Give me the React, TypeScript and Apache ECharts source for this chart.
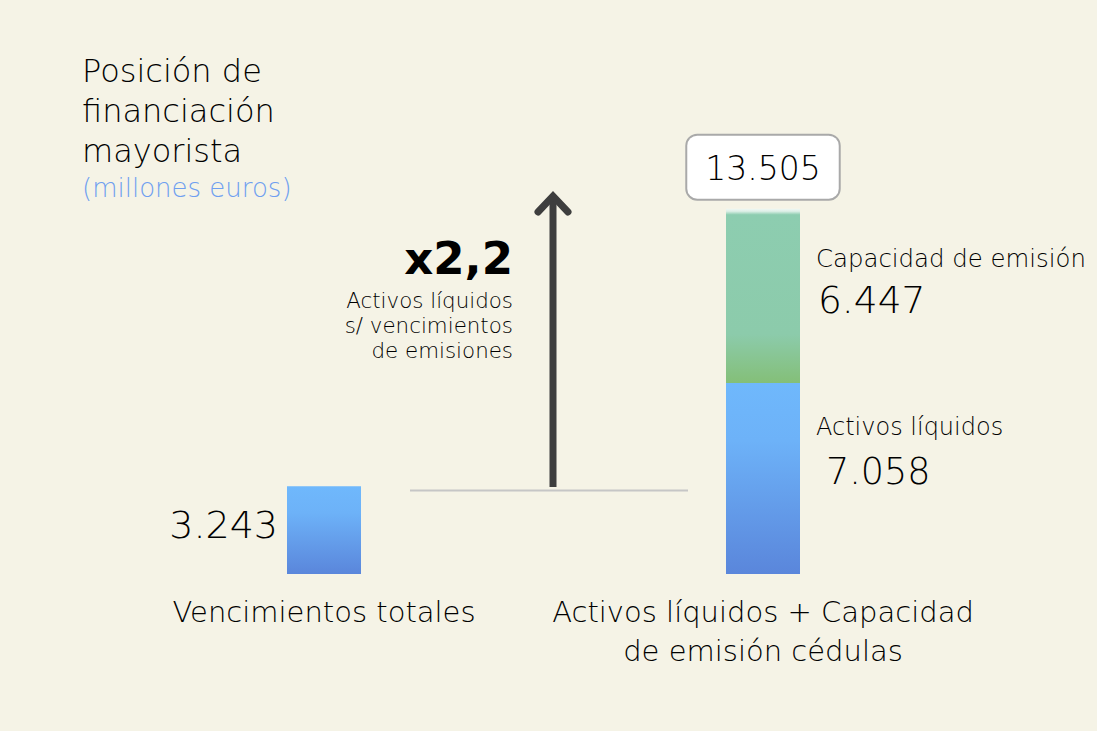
import React, { useEffect, useRef } from "react";
import * as echarts from "echarts";

const categories = ["Vencimientos totales", "Activos líquidos + Capacidad\nde emisión cédulas"];
const liquidValues = [3243, 7058];
const capacityValues = [null, 6447];
const totalValues = [null, 13505];
const titleLines = ["Posición de", "financiación", "mayorista"];
const subtitle = "(millones euros)";
const multiplierText = "x2,2";
const multiplierNote = ["Activos líquidos", "s/ vencimientos", "de emisiones"];

const fmt = (n: number) => String(Math.round(n)).replace(/\B(?=(\d{3})+(?!\d))/g, ".");

const FONT = "DejaVu Sans";
const W = 200;
const INK = "#000";

export default function App() {
  const ref = useRef<HTMLDivElement>(null);
  useEffect(() => {
    if (!ref.current) return;
    const chart = echarts.init(ref.current, null, { renderer: "svg" });
    const blueGrad = new echarts.graphic.LinearGradient(0, 0, 0, 1, [
      { offset: 0, color: "#6fb8fc" },
      { offset: 0.3, color: "#6db2f8" },
      { offset: 1, color: "#5a86db" },
    ]);
    const greenGrad = new echarts.graphic.LinearGradient(0, 0, 0, 1, [
      { offset: 0, color: "#f0f8f4" },
      { offset: 0.015, color: "#dcefe6" },
      { offset: 0.035, color: "#8dcdb0" },
      { offset: 0.72, color: "#8ccbab" },
      { offset: 1, color: "#84bf78" },
    ]);
    const titleTexts = titleLines.map((t, i) => ({
      type: "text",
      left: 82,
      top: 55 + i * 40,
      style: { text: t, fontSize: 32, fill: INK, fontWeight: W, fontFamily: FONT },
    }));
    const noteTexts = multiplierNote.map((t, i) => ({
      type: "text",
      x: 513,
      y: 290 + i * 25,
      style: { text: t, fontSize: 21.4, fill: INK, fontWeight: W, fontFamily: FONT, align: "right" },
    }));
    chart.setOption({
      animation: false,
      backgroundColor: "#f5f3e6",
      textStyle: { fontFamily: FONT },
      grid: { left: 104.5, right: 1097 - 982.5, top: 33, bottom: 157 },
      xAxis: {
        type: "category",
        data: categories,
        axisLine: { show: false },
        axisTick: { show: false },
        axisLabel: {
          interval: 0,
          margin: 18,
          color: INK,
          fontSize: 29,
          fontWeight: W,
          lineHeight: 39,
          fontFamily: FONT,
        },
      },
      yAxis: { type: "value", min: 0, max: 20000, show: false, splitLine: { show: false } },
      series: [
        {
          name: "Activos líquidos",
          type: "bar",
          stack: "a",
          barWidth: 74,
          barGap: "-100%",
          itemStyle: { color: blueGrad },
          data: [
            {
              value: liquidValues[0],
              label: {
                show: true,
                position: "left",
                distance: 9,
                offset: [0, -5],
                formatter: (p: any) => fmt(p.value),
                fontSize: 38,
                fontWeight: W,
                color: INK,
                fontFamily: FONT,
              },
            },
            {
              value: liquidValues[1],
              label: {
                show: true,
                position: [90, 24],
                formatter: (p: any) => "{a|" + "Activos líquidos" + "}\n{b|" + fmt(p.value) + "}",
                rich: {
                  a: { fontSize: 24, lineHeight: 40, color: INK, fontWeight: W, fontFamily: FONT },
                  b: { fontSize: 36.5, lineHeight: 48, color: INK, fontWeight: W, fontFamily: FONT, padding: [0, 0, 0, 10] },
                },
              },
            },
          ],
        },
        {
          name: "Capacidad de emisión",
          type: "bar",
          stack: "a",
          barWidth: 74,
          itemStyle: { color: greenGrad },
          data: capacityValues.map((v) =>
            v == null
              ? null
              : {
                  value: v,
                  label: {
                    show: true,
                    position: [90, 31],
                    formatter: (p: any) => "{a|" + "Capacidad de emisión" + "}\n{b|" + fmt(p.value) + "}",
                    rich: {
                      a: { fontSize: 24.4, lineHeight: 37, color: INK, fontWeight: W, fontFamily: FONT },
                      b: { fontSize: 37.5, lineHeight: 46, color: INK, fontWeight: W, fontFamily: FONT, padding: [0, 0, 0, 2] },
                    },
                  },
                }
          ),
        },
        {
          name: "Total",
          type: "bar",
          barWidth: 74,
          barGap: "-100%",
          itemStyle: { color: "rgba(0,0,0,0)" },
          silent: true,
          z: 1,
          data: totalValues.map((v) =>
            v == null
              ? null
              : {
                  value: v,
                  label: {
                    show: true,
                    position: "top",
                    distance: 10,
                    formatter: (p: any) => fmt(p.value),
                    fontSize: 33,
                    fontWeight: W,
                    color: INK,
                    fontFamily: FONT,
                    backgroundColor: "#ffffff",
                    borderColor: "#a9a9a9",
                    borderWidth: 2,
                    borderRadius: 10,
                    padding: [16, 18, 14, 18],
                  },
                }
          ),
        },
      ],
      graphic: [
        ...titleTexts,
        {
          type: "text",
          left: 82,
          top: 175,
          style: {
            text: subtitle,
            fontSize: 26,
            fill: "#6f9ff0",
            fontWeight: W,
            fontFamily: FONT,
          },
        },
        {
          type: "text",
          x: 513,
          y: 236,
          style: {
            text: multiplierText,
            fontSize: 45,
            fill: "#000",
            fontWeight: "bold",
            fontFamily: FONT,
            align: "right",
          },
        },
        ...noteTexts,
        {
          type: "line",
          shape: { x1: 410, y1: 490.5, x2: 688, y2: 490.5 },
          style: { stroke: "#c6c6c6", lineWidth: 2 },
        },
        {
          type: "line",
          shape: { x1: 553, y1: 487, x2: 553, y2: 197 },
          style: { stroke: "#3e3e3e", lineWidth: 7, lineCap: "butt" },
        },
        {
          type: "polyline",
          shape: { points: [[538, 212], [553, 196], [568, 212]] },
          style: { stroke: "#3e3e3e", lineWidth: 7, lineCap: "round", lineJoin: "miter", fill: null },
        },
      ],
    });
    return () => chart.dispose();
  }, []);
  return (
    <div
      ref={ref}
      style={{ position: "fixed", left: 0, top: 0, width: 1097, height: 731 }}
    />
  );
}
